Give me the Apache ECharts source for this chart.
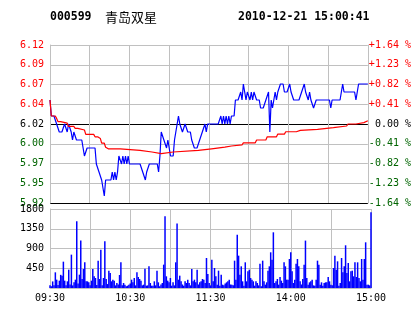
<!DOCTYPE html>
<html><head><meta charset="utf-8">
<script src="https://cdn.jsdelivr.net/npm/echarts/dist/echarts.min.js"></script>
<style>html,body{margin:0;padding:0;background:#fff}#c{width:414px;height:314px}</style>
</head><body><div id="c"></div>
<script>
const stockCode = '000599';
const stockName = '青岛双星';
const stamp = '2010-12-21 15:00:41';
const prevClose = 6.02;
const pctRange = 1.64;
const timeTicks = [0, 60, 120, 180, 240];
const timeLabels = ['09:30', '10:30', '11:30', '14:00', '15:00'];
const priceTickLabels = ['5.92','5.95','5.97','6.00','6.02','6.04','6.07','6.09','6.12'];
const pctTickLabels = ['-1.64 %','-1.23 %','-0.82 %','-0.41 %',' 0.00 %','+0.41 %','+0.82 %','+1.23 %','+1.64 %'];
const volTickLabels = ['', '450', '900', '1350', '1800'];

const price = [
6.05,6.03,6.03,6.03,6.03,6.02,6.02,6.01,6.01,6.01,
6.01,6.02,6.02,6.01,6.02,6.02,6.01,6.00,6.01,6.01,
6.00,6.00,6.00,6.00,6.00,5.99,5.98,5.98,5.99,5.99,
5.99,5.99,5.99,5.99,5.99,5.97,5.97,5.96,5.96,5.95,
5.95,5.93,5.95,5.95,5.95,5.95,5.95,5.96,5.95,5.96,
5.95,5.96,5.98,5.98,5.97,5.98,5.97,5.98,5.97,5.98,
5.97,5.97,5.97,5.97,5.97,5.97,5.97,5.97,5.97,5.97,
5.96,5.96,5.95,5.96,5.96,5.97,5.97,5.97,5.97,5.97,
5.97,5.97,5.96,5.98,6.01,6.01,6.00,6.00,5.99,6.00,
5.99,5.98,5.98,5.98,6.00,6.01,6.02,6.03,6.02,6.02,
6.01,6.01,6.02,6.02,6.01,6.01,6.01,6.00,6.00,5.99,
5.99,5.99,5.99,6.00,6.00,6.01,6.01,6.02,6.01,6.02,
6.02,6.02,6.02,6.02,6.02,6.02,6.02,6.02,6.02,6.03,
6.02,6.03,6.02,6.03,6.02,6.03,6.02,6.03,6.03,6.03,
6.05,6.05,6.05,6.05,6.06,6.05,6.07,6.06,6.05,6.06,
6.06,6.05,6.06,6.05,6.06,6.06,6.05,6.05,6.05,6.04,
6.04,6.04,6.04,6.05,6.05,6.06,6.01,6.05,6.04,6.05,
6.06,6.05,6.06,6.06,6.07,6.07,6.07,6.06,6.06,6.06,
6.06,6.07,6.06,6.06,6.05,6.05,6.05,6.05,6.05,6.05,
6.06,6.06,6.07,6.06,6.06,6.05,6.06,6.05,6.05,6.04,
6.04,6.05,6.05,6.05,6.05,6.05,6.05,6.05,6.05,6.05,
6.05,6.05,6.04,6.05,6.05,6.05,6.05,6.05,6.05,6.05,
6.05,6.07,6.06,6.06,6.06,6.06,6.06,6.06,6.06,6.06,
6.06,6.05,6.06,6.07,6.07,6.07,6.07,6.07,6.07,6.07,
6.07
];

const avgMinute = [0,1,4,5,6,8,9,13,14,18,19,21,22,26,27,33,34,36,37,38,39,41,42,43,44,53,54,68,69,77,78,84,85,93,94,112,113,122,123,132,133,137,138,145,146,155,156,163,164,171,172,177,178,186,187,189,190,202,203,214,215,224,225,231,232,237,238,240];
const avgPrice = [6.05,6.03,6.03,6.027,6.023,6.023,6.021,6.021,6.017,6.017,6.0145,6.0145,6.0125,6.0125,6.007,6.007,6.004,6.004,6.002,6.002,5.996,5.996,5.991,5.991,5.989,5.989,5.987,5.987,5.985,5.985,5.983,5.983,5.985,5.985,5.987,5.987,5.989,5.989,5.991,5.991,5.9925,5.9925,5.994,5.994,5.9965,5.9965,6.000,6.000,6.004,6.004,6.0074,6.0074,6.0103,6.0103,6.012,6.012,6.0133,6.0133,6.0154,6.0154,6.0175,6.0175,6.02,6.02,6.0217,6.0217,6.024,6.024];

const volume = [
60,40,150,60,357,190,70,167,300,280,
600,167,60,152,418,80,760,60,129,190,
1520,100,304,1080,205,433,585,152,152,129,
60,167,433,266,228,70,623,205,874,60,
228,1064,205,90,395,342,152,190,167,60,
114,80,296,585,60,114,76,40,53,76,
100,190,129,228,60,357,251,205,167,60,
76,440,53,60,494,114,53,53,152,60,
395,129,40,80,114,532,1634,266,167,129,
228,53,129,60,585,1467,190,281,152,80,
53,152,114,190,114,60,433,152,190,129,
418,80,129,152,205,190,114,684,320,114,
60,646,152,456,266,76,395,53,304,76,
60,100,129,152,190,80,76,60,623,190,
1216,737,304,494,152,53,585,152,380,418,
228,190,152,53,152,114,60,555,40,623,
152,76,129,395,494,813,646,1269,114,152,
205,76,251,167,114,585,494,190,190,661,
813,380,114,190,555,661,494,152,80,205,
532,1080,228,76,129,152,190,60,53,190,
623,532,76,129,53,114,129,129,251,152,
76,60,456,737,418,608,53,114,684,357,
494,973,342,570,152,380,395,266,585,251,
585,228,152,661,190,661,1041,76,76,60,
1725
];

const MONO = '"DejaVu Sans Mono", monospace';
const GRID = '#c0c0c0';
const RED = '#ff0000';
const GREEN = '#006400';
const signColor = v => (v > 0.001 ? RED : (v < -0.001 ? GREEN : '#000'));

const chart = echarts.init(document.getElementById('c'), null, {renderer: 'canvas'});
chart.setOption({
  animation: false,
  backgroundColor: '#fff',
  graphic: [
    {type: 'text', x: 50, y: 17, style: {text: stockCode, font: 'bold 11.5px ' + MONO, fill: '#000', verticalAlign: 'middle'}},
    {type: 'text', x: 105, y: 17, style: {text: stockName, font: '13px "Noto Sans CJK SC"', fill: '#000', verticalAlign: 'middle'}},
    {type: 'text', x: 238, y: 17, style: {text: stamp, font: 'bold 11.5px ' + MONO, fill: '#000', verticalAlign: 'middle'}}
  ],
  grid: [
    {left: 50, top: 45, width: 321, height: 158},
    {left: 50, top: 209, width: 321, height: 79}
  ],
  xAxis: [
    {gridIndex: 0, type: 'value', min: 0, max: 240, interval: 30,
     axisLine: {show: false}, axisTick: {show: false}, axisLabel: {show: false},
     splitLine: {show: true, lineStyle: {color: GRID, width: 1}}},
    {gridIndex: 1, type: 'value', min: 0, max: 240, interval: 30,
     axisLine: {show: true, lineStyle: {color: GRID}}, axisTick: {show: false},
     axisLabel: {show: true, margin: 5, fontFamily: MONO, fontSize: 10, color: '#000',
       showMinLabel: true, showMaxLabel: true, hideOverlap: false,
       formatter: v => { const k = timeTicks.indexOf(v); return k >= 0 ? timeLabels[k] : ''; }},
     splitLine: {show: true, lineStyle: {color: GRID, width: 1}}}
  ],
  yAxis: [
    {gridIndex: 0, type: 'value', show: false,
     min: prevClose * (1 - pctRange / 100), max: prevClose * (1 + pctRange / 100),
     splitLine: {show: false}},
    {gridIndex: 0, type: 'value', position: 'left', min: -4, max: 4, interval: 1,
     axisLine: {show: true, lineStyle: {color: GRID}}, axisTick: {show: false},
     axisLabel: {margin: 6, fontFamily: MONO, fontSize: 10,
       showMinLabel: true, showMaxLabel: true,
       color: v => signColor(Number(v)),
       formatter: v => priceTickLabels[Math.round(v) + 4]},
     splitLine: {show: true, lineStyle: {width: 1,
       color: ['#000', GRID, GRID, GRID, '#000', GRID, GRID, GRID, GRID]}}},
    {gridIndex: 0, type: 'value', position: 'right', min: -4, max: 4, interval: 1,
     axisLine: {show: true, lineStyle: {color: GRID}}, axisTick: {show: false},
     axisLabel: {margin: 1, fontFamily: MONO, fontSize: 10,
       showMinLabel: true, showMaxLabel: true,
       color: v => signColor(Number(v)),
       formatter: v => pctTickLabels[Math.round(v) + 4]},
     splitLine: {show: false}},
    {gridIndex: 1, type: 'value', position: 'left', min: 0, max: 1800, interval: 450,
     axisLine: {show: true, lineStyle: {color: GRID}}, axisTick: {show: false},
     axisLabel: {margin: 6, fontFamily: MONO, fontSize: 10, color: '#000',
       showMinLabel: true, showMaxLabel: true,
       formatter: v => volTickLabels[Math.round(v / 450)]},
     splitLine: {show: true, lineStyle: {color: GRID, width: 1}}}
  ],
  series: [
    {type: 'line', name: 'price', xAxisIndex: 0, yAxisIndex: 0,
     data: price.map((p, i) => [i, p]), symbol: 'none', showSymbol: false,
     lineStyle: {color: '#0000ff', width: 1.2}, z: 3, silent: true},
    {type: 'line', name: 'avg', xAxisIndex: 0, yAxisIndex: 0,
     data: avgMinute.map((t, i) => [t, avgPrice[i]]), symbol: 'none', showSymbol: false,
     lineStyle: {color: RED, width: 1.2}, z: 4, silent: true},
    {type: 'bar', name: 'vol', xAxisIndex: 1, yAxisIndex: 3,
     data: volume.map((v, i) => [i, v]), barWidth: 1.5,
     itemStyle: {color: '#0000ff'}, silent: true}
  ]
});
</script>
</body></html>
